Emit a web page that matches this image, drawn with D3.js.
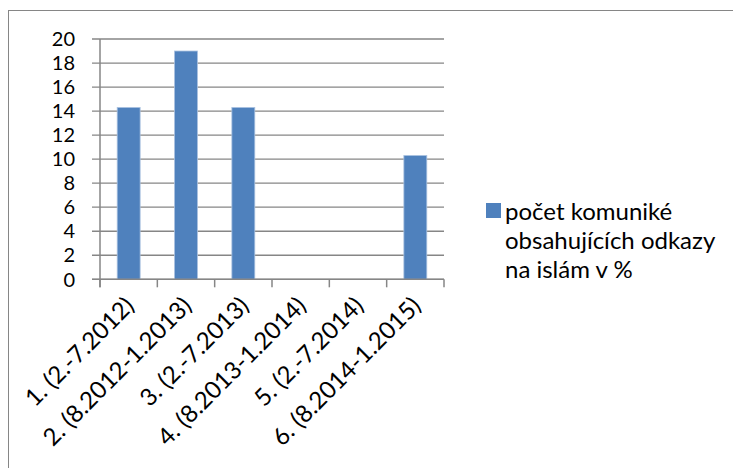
<!DOCTYPE html>
<meta charset="utf-8">
<script src="https://d3js.org/d3.v7.min.js"></script>
<style>
body { margin: 0; background: #fff; }
text { font-family: Lato, "Open Sans", sans-serif; fill: #000; }
</style>
<div id="chart"></div>
<script>
// data
var categories = ["1. (2.-7.2012)", "2. (8.2012-1.2013)", "3. (2.-7.2013)",
                  "4. (8.2013-1.2014)", "5. (2.-7.2014)", "6. (8.2014-1.2015)"];
var values = [14.3, 19.0, 14.3, 0, 0, 10.3];
var yTicks = [0, 2, 4, 6, 8, 10, 12, 14, 16, 18, 20];
var seriesName = ["počet komuniké", "obsahujících odkazy", "na islám v %"];

var W = 733, H = 468;
var plotL = 100, plotR = 444, plotT = 39, plotB = 279.3;

var svg = d3.select("#chart").append("svg")
    .attr("width", W).attr("height", H);

// outer frame (clipped at right/bottom like the source)
svg.append("rect")
    .attr("x", 8.5).attr("y", 10.5)
    .attr("width", W).attr("height", H)
    .attr("fill", "none").attr("stroke", "#868686").attr("stroke-width", 1);

var x = d3.scaleBand()
    .domain(categories)
    .range([plotL, plotR])
    .paddingInner(0.6).paddingOuter(0.3);

var y = d3.scaleLinear()
    .domain([0, 20])
    .range([plotB, plotT]);

// gridlines
svg.append("g")
  .selectAll("line")
  .data(yTicks)
  .enter().append("line")
    .attr("x1", plotL - 8).attr("x2", plotR)
    .attr("y1", function(d) { return y(d); })
    .attr("y2", function(d) { return y(d); })
    .attr("stroke", "#868686").attr("stroke-width", 1.3);

// y labels
svg.append("g")
  .selectAll("text")
  .data(yTicks)
  .enter().append("text")
    .attr("x", 75)
    .attr("y", function(d) { return y(d); })
    .attr("dy", "0.36em")
    .attr("text-anchor", "end")
    .style("font-size", "20px")
    .text(function(d) { return d; });

// bars
svg.append("g")
  .selectAll("rect")
  .data(values)
  .enter().append("rect")
    .attr("x", function(d, i) { return x(categories[i]); })
    .attr("width", x.bandwidth())
    .attr("y", function(d) { return y(d); })
    .attr("height", function(d) { return y(0) - y(d); })
    .attr("fill", "#4f81bd")
    .attr("stroke", "#a9c1e0").attr("stroke-width", 0.8);

// axis lines
svg.append("line")
    .attr("x1", plotL).attr("x2", plotL).attr("y1", plotT).attr("y2", plotB + 8)
    .attr("stroke", "#868686").attr("stroke-width", 1.5);
svg.append("line")
    .attr("x1", plotL - 8).attr("x2", plotR).attr("y1", plotB).attr("y2", plotB)
    .attr("stroke", "#868686").attr("stroke-width", 1.5);

// category boundary ticks
var bounds = d3.range(categories.length + 1);
svg.append("g")
  .selectAll("line")
  .data(bounds)
  .enter().append("line")
    .attr("x1", function(d) { return plotL + d * (plotR - plotL) / categories.length; })
    .attr("x2", function(d) { return plotL + d * (plotR - plotL) / categories.length; })
    .attr("y1", plotB).attr("y2", plotB + 8)
    .attr("stroke", "#868686").attr("stroke-width", 1.5);

// x labels rotated
svg.append("g")
  .selectAll("text")
  .data(categories)
  .enter().append("text")
    .attr("transform", function(d) {
      var cx = x(d) + x.bandwidth() / 2 + 1;
      return "translate(" + cx + "," + (plotB + 22) + ") rotate(-45)";
    })
    .attr("text-anchor", "end")
    .attr("dy", "0.35em")
    .style("font-size", "24px")
    .text(function(d) { return d; });

// legend
svg.append("rect")
    .attr("x", 486).attr("y", 203)
    .attr("width", 15).attr("height", 15)
    .attr("fill", "#4f81bd");
svg.append("g")
  .selectAll("text")
  .data(seriesName)
  .enter().append("text")
    .attr("x", 505)
    .attr("y", function(d, i) { return 220 + i * 29; })
    .style("font-size", "24px")
    .text(function(d) { return d; });
</script>
